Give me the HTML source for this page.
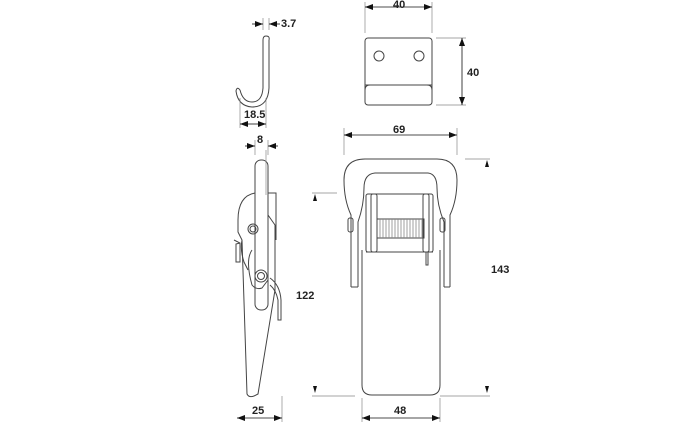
<!DOCTYPE html>
<html><head><meta charset="utf-8"><style>
html,body{margin:0;padding:0;background:#fff;}
svg{display:block;}
text{font-family:"Liberation Sans",Arial,sans-serif;font-weight:bold;font-size:11px;fill:#222;}
</style></head><body>
<svg width="700" height="426" viewBox="0 0 700 426" xmlns="http://www.w3.org/2000/svg">
<defs>
<marker id="a" markerWidth="8" markerHeight="6" refX="8" refY="3" orient="auto" markerUnits="userSpaceOnUse"><path d="M0,0L8,3L0,6z" fill="#111"/></marker>
</defs>
<g fill="none" stroke="#444" stroke-width="1">
<!-- hook -->
<path d="M263,40 L263,88 Q262,102 252,102 Q243,102 240,90 M269,40 Q270,36 266,36 Q263,36 263,40 M269,40 L269,88 Q268,107 252,107 Q238,106 236,91 Q237,86 240,90" />
<!-- plate -->
<rect x="365" y="38" width="67" height="67" rx="3"/>
<line x1="365" y1="85" x2="432" y2="85"/>
<path d="M365,90 Q365,85 370,85 M432,90 Q432,85 427,85"/>
<circle cx="379" cy="56" r="5"/><circle cx="419" cy="56" r="5"/>
<!-- side view -->
<rect x="255" y="160" width="13" height="150" rx="6"/>
<path d="M255,193 Q238,196 238,220 L238,232 L242,240 L247,394 Q249,398 254,396 L258,394 L275,290 L275,225 L268,215"/>
<path d="M268,193 L276,193 L276,240"/>
<path d="M242,240 Q240,250 244,262 L248,270"/>
<path d="M234,240 L240,243 L240,262 L236,262 L236,244 L240,243"/>
<path d="M252,250 Q245,260 252,285 Q256,290 262,288 L268,280"/>
<circle cx="253" cy="229" r="5"/><circle cx="253" cy="229" r="3"/>
<circle cx="261" cy="276" r="6"/><circle cx="261" cy="276" r="3.5"/>
<path d="M270,278 Q280,285 281,300 L281,320 L278,320 L278,300 Q276,290 270,285"/>
<!-- front view: bail -->
<path d="M351,287 L351,215 Q344,200 344,180 Q344,159 365,159 L437,159 Q457,159 457,180 Q457,200 450,215 L450,287"/>
<path d="M358,287 L358,222 Q364,205 364,188 Q364,174 375,173 L428,173 Q437,174 437,188 Q437,205 444,222 L444,287"/>
<path d="M351,287 L358,287 M444,287 L450,287"/>
<rect x="348" y="218" width="5" height="14" rx="2"/><rect x="440" y="218" width="5" height="14" rx="2"/>
<!-- body -->
<path d="M362,250 L362,385 Q362,395 372,395 L430,395 Q440,395 440,385 L440,250"/>
<rect x="366" y="194" width="67" height="58" rx="2"/>
<rect x="371" y="194" width="6" height="58" rx="2"/>
<rect x="423" y="194" width="6" height="58" rx="2"/>
<line x1="366" y1="252" x2="433" y2="252"/>
<rect x="377" y="219" width="47" height="19"/>
<path d="M380,219 L380,238 M383,219 L383,238 M386,219 L386,238 M389,219 L389,238 M392,219 L392,238 M395,219 L395,238 M398,219 L398,238 M401,219 L401,238 M404,219 L404,238 M407,219 L407,238 M410,219 L410,238 M413,219 L413,238 M416,219 L416,238 M419,219 L419,238 M422,219 L422,238" stroke="#888" stroke-width="0.8"/>
<path d="M428,252 L428,265 L426,265 L426,252"/>
</g>
<!-- dimension lines -->
<g fill="none" stroke="#888" stroke-width="0.7">
<line x1="266" y1="195" x2="266" y2="150"/>
<line x1="269" y1="18" x2="269" y2="30"/><line x1="263" y1="18" x2="263" y2="30"/>
<line x1="240" y1="98" x2="240" y2="128"/><line x1="266" y1="98" x2="266" y2="128"/>
<line x1="255" y1="140" x2="255" y2="155"/><line x1="268" y1="140" x2="268" y2="155"/>
<line x1="365" y1="2" x2="365" y2="33"/><line x1="432" y1="2" x2="432" y2="33"/>
<line x1="436" y1="38" x2="466" y2="38"/><line x1="436" y1="105" x2="466" y2="105"/>
<line x1="344" y1="128" x2="344" y2="155"/><line x1="457" y1="128" x2="457" y2="155"/>
<line x1="465" y1="159" x2="490" y2="159"/><line x1="440" y1="396" x2="490" y2="396"/>
<line x1="312" y1="193" x2="337" y2="193"/><line x1="312" y1="396" x2="355" y2="396"/>
<line x1="282" y1="396" x2="282" y2="422"/><line x1="362" y1="398" x2="362" y2="422"/><line x1="440" y1="398" x2="440" y2="422"/>
</g>
<g stroke="#111" stroke-width="0.8" fill="none">
<line x1="252" y1="24" x2="263" y2="24" marker-end="url(#a)"/>
<line x1="280" y1="24" x2="269" y2="24" marker-end="url(#a)"/>
<line x1="253" y1="124" x2="240" y2="124" marker-end="url(#a)"/>
<line x1="253" y1="124" x2="266" y2="124" marker-end="url(#a)"/>
<line x1="245" y1="146" x2="255" y2="146" marker-end="url(#a)"/>
<line x1="278" y1="146" x2="268" y2="146" marker-end="url(#a)"/>
<line x1="398" y1="7" x2="365" y2="7" marker-end="url(#a)"/>
<line x1="398" y1="7" x2="432" y2="7" marker-end="url(#a)"/>
<line x1="462" y1="72" x2="462" y2="38" marker-end="url(#a)"/>
<line x1="462" y1="72" x2="462" y2="105" marker-end="url(#a)"/>
<line x1="400" y1="135" x2="344" y2="135" marker-end="url(#a)"/>
<line x1="400" y1="135" x2="457" y2="135" marker-end="url(#a)"/>
<line x1="260" y1="418" x2="237" y2="418" marker-end="url(#a)"/>
<line x1="260" y1="418" x2="282" y2="418" marker-end="url(#a)"/>
<line x1="400" y1="418" x2="362" y2="418" marker-end="url(#a)"/>
<line x1="400" y1="418" x2="440" y2="418" marker-end="url(#a)"/>
</g>
<g fill="#111">
<path d="M487,160 L485,167 L489,167z"/><path d="M487,393 L485,386 L489,386z"/>
<path d="M315,194 L313,201 L317,201z"/><path d="M315,393 L313,386 L317,386z"/>
</g>
<text x="281" y="27">3.7</text>
<text x="244" y="118">18.5</text>
<text x="257" y="143">8</text>
<text x="393" y="8">40</text>
<text x="467" y="76">40</text>
<text x="393" y="133">69</text>
<text x="491" y="273">143</text>
<text x="296" y="299">122</text>
<text x="252" y="414">25</text>
<text x="394" y="414">48</text>
</svg>
</body></html>
